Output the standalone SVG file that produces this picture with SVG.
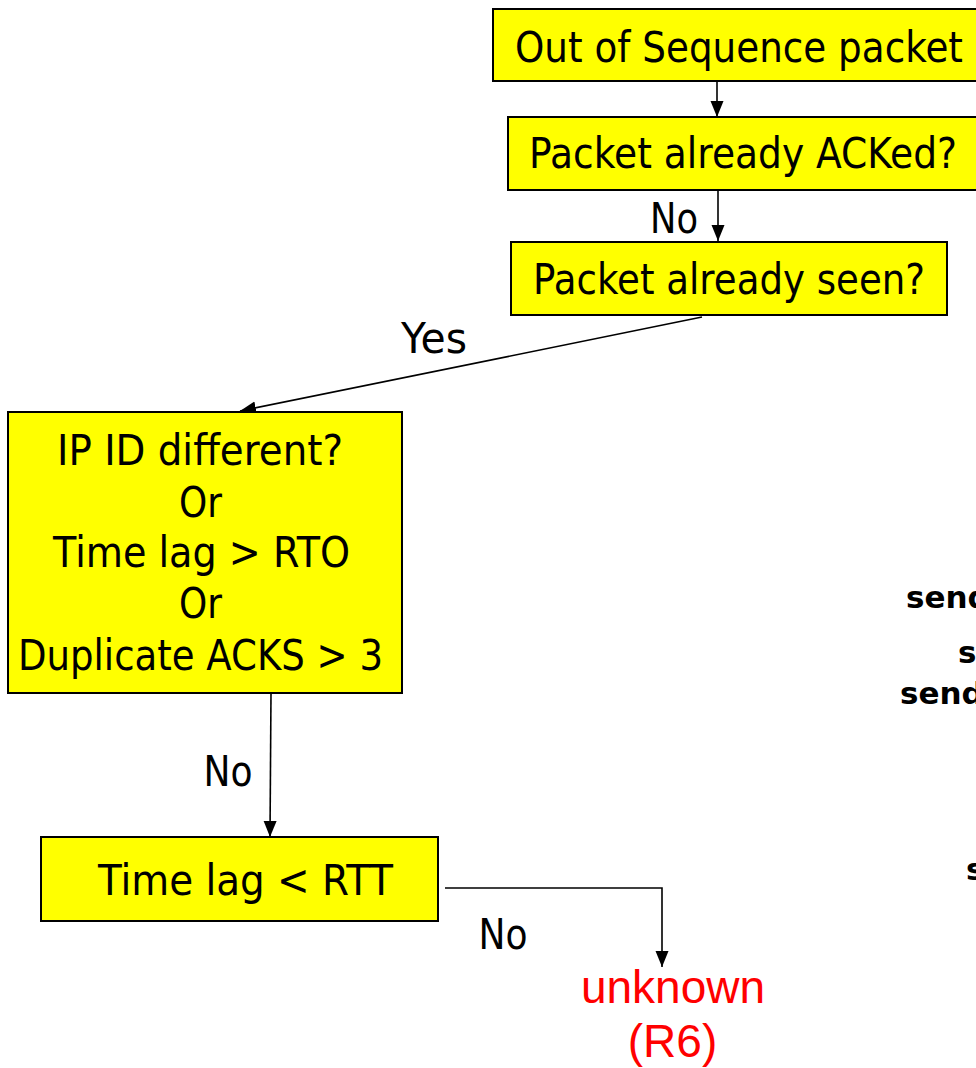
<svg xmlns="http://www.w3.org/2000/svg" width="976" height="1068" viewBox="0 0 976 1068">
  <defs>
    <marker id="arrow" markerUnits="userSpaceOnUse" markerWidth="17" markerHeight="14" refX="16" refY="6.5" orient="auto">
      <path d="M0,0 L16,6.5 L0,13 z" fill="#000"/>
    </marker>
    <style>
      .box { fill: #ffff00; stroke: #000; stroke-width: 2; }
      .lbl { font-family: "DejaVu Sans", Verdana, sans-serif; font-size: 43px; fill: #000; text-anchor: middle; }
      .side { font-family: "DejaVu Sans", Verdana, sans-serif; font-size: 31px; font-weight: bold; fill: #000; }
      .res { font-family: "Liberation Sans", Arial, sans-serif; font-size: 46px; fill: #ff0000; text-anchor: middle; }
      .conn { fill: none; stroke: #000; stroke-width: 1.6; marker-end: url(#arrow); }
    </style>
  </defs>

  <rect width="976" height="1068" fill="#fff"/>

  <g id="connectors">
    <line class="conn" x1="717" y1="81" x2="717" y2="117"/>
    <line class="conn" x1="718" y1="190" x2="718" y2="241"/>
    <line class="conn" x1="702" y1="317" x2="240" y2="411"/>
    <line class="conn" x1="271" y1="693" x2="270" y2="837"/>
    <polyline class="conn" points="445,888 662,888 662,967"/>
  </g>

  <g id="edge-labels">
    <text class="lbl" x="674" y="233" textLength="48" lengthAdjust="spacingAndGlyphs">No</text>
    <text class="lbl" x="434" y="353" textLength="66" lengthAdjust="spacingAndGlyphs">Yes</text>
    <text class="lbl" x="228" y="786" textLength="49" lengthAdjust="spacingAndGlyphs">No</text>
    <text class="lbl" x="503" y="949" textLength="49" lengthAdjust="spacingAndGlyphs">No</text>
  </g>

  <g id="out-of-sequence">
    <rect class="box" x="493" y="9" width="495" height="72"/>
    <text class="lbl" x="739" y="62" textLength="448" lengthAdjust="spacingAndGlyphs">Out of Sequence packet</text>
  </g>

  <g id="already-acked">
    <rect class="box" x="508" y="117" width="480" height="73"/>
    <text class="lbl" x="743" y="168" textLength="428" lengthAdjust="spacingAndGlyphs">Packet already ACKed?</text>
  </g>

  <g id="already-seen">
    <rect class="box" x="511" y="242" width="436" height="73"/>
    <text class="lbl" x="729" y="294" textLength="392" lengthAdjust="spacingAndGlyphs">Packet already seen?</text>
  </g>

  <g id="retransmission-test">
    <rect class="box" x="8" y="412" width="394" height="281"/>
    <text class="lbl" x="200" y="465" textLength="286" lengthAdjust="spacingAndGlyphs">IP ID different?</text>
    <text class="lbl" x="200.5" y="517" textLength="43" lengthAdjust="spacingAndGlyphs">Or</text>
    <text class="lbl" x="201.5" y="567" textLength="297" lengthAdjust="spacingAndGlyphs">Time lag &gt; RTO</text>
    <text class="lbl" x="200.5" y="618" textLength="43" lengthAdjust="spacingAndGlyphs">Or</text>
    <text class="lbl" x="200.5" y="670" textLength="365" lengthAdjust="spacingAndGlyphs">Duplicate ACKS &gt; 3</text>
  </g>

  <g id="rtt-test">
    <rect class="box" x="41" y="837" width="397" height="84"/>
    <text class="lbl" x="245.5" y="895" textLength="295" lengthAdjust="spacingAndGlyphs">Time lag &lt; RTT</text>
  </g>

  <g id="unknown">
    <text class="res" x="673" y="1003">unknown</text>
    <text class="res" x="672.5" y="1057">(R6)</text>
  </g>

  <g id="side-notes">
    <text class="side" x="906" y="608">send</text>
    <text class="side" x="958" y="663">s</text>
    <text class="side" x="900" y="704">send</text>
    <text class="side" x="966" y="880">s</text>
  </g>
</svg>
